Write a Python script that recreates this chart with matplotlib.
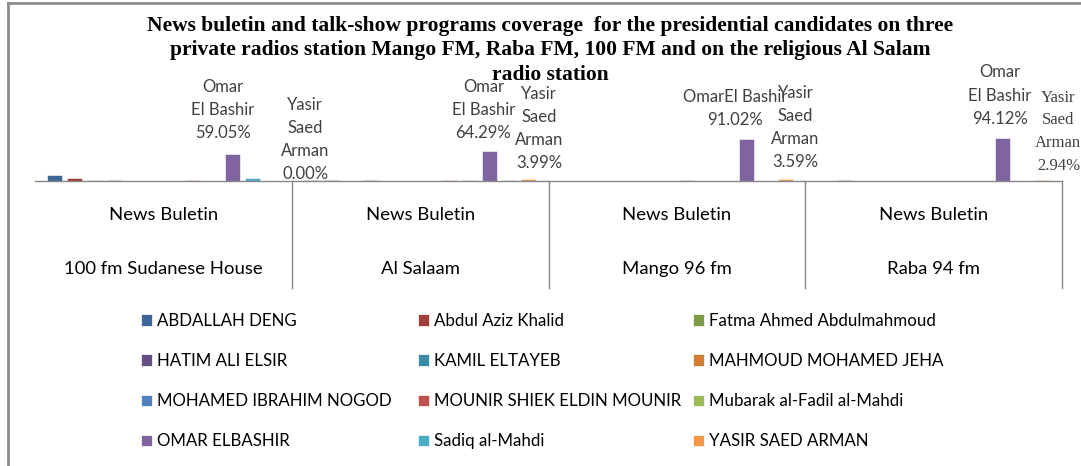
import matplotlib.pyplot as plt
import numpy as np
from matplotlib.lines import Line2D
from matplotlib.patches import Patch
from matplotlib.transforms import blended_transform_factory

# Datos
categorias = ["100 fm Sudanese House", "Al Salaam", "Mango 96 fm", "Raba 94 fm"]
programa = ["News Buletin"] * 4

candidatos = ["ABDALLAH DENG", "Abdul Aziz Khalid", "Fatma Ahmed Abdulmahmoud",
              "HATIM ALI ELSIR", "KAMIL ELTAYEB", "MAHMOUD MOHAMED JEHA",
              "MOHAMED IBRAHIM NOGOD", "MOUNIR SHIEK ELDIN MOUNIR", "Mubarak al-Fadil al-Mahdi",
              "OMAR ELBASHIR", "Sadiq al-Mahdi", "YASIR SAED ARMAN"]

# porcentaje por candidato (filas) y radio (columnas)
abdallah = [12.5, 1.5, 0.0, 0.0]
abdul_aziz = [6.5, 1.5, 0.0, 1.5]
fatma = [3.0, 0.0, 0.0, 0.0]
hatim = [3.0, 1.5, 0.0, 0.0]
kamil = [0.0, 0.0, 0.0, 0.0]
mahmoud = [0.0, 0.0, 0.0, 0.0]
mohamed = [0.0, 0.0, 1.5, 0.0]
mounir = [3.0, 1.5, 0.0, 0.0]
mubarak = [0.0, 1.5, 0.0, 0.0]
omar = [59.05, 64.29, 91.02, 94.12]
sadiq = [6.5, 1.5, 0.0, 0.0]
yasir = [0.00, 3.99, 3.59, 2.94]

valores = [abdallah, abdul_aziz, fatma, hatim, kamil, mahmoud,
           mohamed, mounir, mubarak, omar, sadiq, yasir]

colores = ["#3C6796", "#9F3F3C", "#7E9B47", "#654F85", "#3A8CA5", "#D27B33",
           "#4F81BD", "#C0504D", "#9BBB59", "#8064A2", "#4BACC6", "#F79646"]

sans = "Lato"

fig = plt.figure(figsize=(10.81, 4.66), dpi=100)
W, H = 1081, 466

# marco de la figura (solo arriba e izquierda)
fig.add_artist(Line2D([8 / W, 1.0], [(H - 3) / H, (H - 3) / H], transform=fig.transFigure,
                      color="#8C8C8C", linewidth=2))
fig.add_artist(Line2D([8 / W, 8 / W], [0, (H - 3) / H], transform=fig.transFigure,
                      color="#8C8C8C", linewidth=2))

ax = fig.add_axes([35 / W, (H - 181) / H, 1027 / W, 178 / H])
x = np.arange(len(categorias))
paso = 0.077
ancho = 0.058
barras = []
for i, (serie, color) in enumerate(zip(valores, colores)):
    b = ax.bar(x + (i - 5.5) * paso, serie, width=ancho, color=color,
               edgecolor="white", linewidth=0.4, zorder=2)
    barras.append(b)

ax.set_xlim(-0.5, 3.5)
ax.set_ylim(0, 178 / 0.46)
for s in ["top", "left", "right"]:
    ax.spines[s].set_visible(False)
ax.spines["bottom"].set_color("#868686")
ax.spines["bottom"].set_linewidth(1)
ax.set_xticks([])
ax.set_yticks([])
ax.patch.set_alpha(0)

# etiquetas de datos (posición relativa a la barra, en píxeles)
etiquetas_omar = ["Omar\nEl Bashir\n59.05%", "Omar\nEl Bashir\n64.29%",
                  "OmarEl Bashir\n91.02%", "Omar\nEl Bashir\n94.12%"]
desp_omar = [(-10, 13), (-6, 10), (-11, 11), (-3, 11)]
etiquetas_yasir = ["Yasir\nSaed\nArman\n0.00%", "Yasir\nSaed\nArman\n3.99%",
                   "Yasir\nSaed\nArman\n3.59%", "Yasir\nSaed\nArman\n2.94%"]
desp_yasir = [(33, -1), (10, 8), (10, 9), (16, 6)]
for j in range(4):
    bo = barras[9][j]
    ax.annotate(etiquetas_omar[j], (bo.get_x() + bo.get_width() / 2, bo.get_height()),
                xytext=desp_omar[j], textcoords="offset pixels", ha="center", va="bottom",
                fontsize=12, color="#404040", family=sans, linespacing=1.55,
                annotation_clip=False)
    by = barras[11][j]
    fam = "Liberation Serif" if j == 3 else sans
    ax.annotate(etiquetas_yasir[j], (by.get_x() + by.get_width() / 2, by.get_height()),
                xytext=desp_yasir[j], textcoords="offset pixels", ha="center", va="bottom",
                fontsize=12, color="#404040", family=fam, linespacing=1.55,
                annotation_clip=False)

# eje de categorías de dos niveles
tr = blended_transform_factory(ax.transData, fig.transFigure)
for j in range(4):
    ax.text(x[j], (H - 215) / H, programa[j], transform=tr, ha="center", va="center",
            fontsize=13.3, family=sans, color="black")
    ax.text(x[j], (H - 269) / H, categorias[j], transform=tr, ha="center", va="center",
            fontsize=13.3, family=sans, color="black")
for xv in [0.5, 1.5, 2.5, 3.5]:
    ax.plot([xv, xv], [(H - 181) / H, (H - 288) / H], transform=tr, color="#868686",
            linewidth=1, clip_on=False)

# título
fig.text(550 / W, (H - 50) / H,
         "News buletin and talk-show programs coverage  for the presidential candidates on three\n"
         "private radios station Mango FM, Raba FM, 100 FM and on the religious Al Salam\n"
         "radio station",
         ha="center", va="center", fontsize=15.5, fontweight="bold",
         family="Liberation Serif", linespacing=1.3)

# leyenda en tres columnas
xs_col = [141, 418, 693]
for c in range(3):
    idx = list(range(c, 12, 3))
    handles = [Patch(facecolor=colores[i], edgecolor="white", linewidth=0.5) for i in idx]
    fig.legend(handles, [candidatos[i] for i in idx], loc="upper left",
               bbox_to_anchor=(xs_col[c] / W, (H - 313) / H), frameon=False,
               prop={"family": sans, "size": 12.2}, handlelength=0.65, handleheight=0.65,
               handletextpad=0.3, labelspacing=1.42, borderaxespad=0, borderpad=0)

fig.savefig("out.png", dpi=100)
